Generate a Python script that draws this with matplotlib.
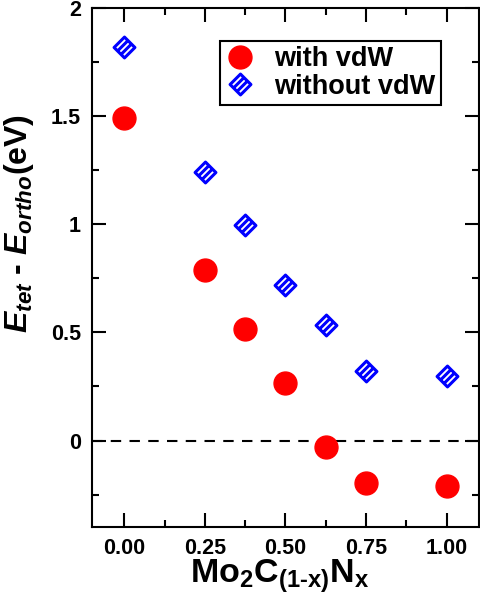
import numpy as np
import matplotlib
matplotlib.use("Agg")
import matplotlib.pyplot as plt
from matplotlib.path import Path
from matplotlib.ticker import MultipleLocator, FixedLocator

plt.rcParams['font.family'] = ['Liberation Sans', 'DejaVu Sans']
plt.rcParams['font.weight'] = 'bold'
plt.rcParams['mathtext.fontset'] = 'custom'
plt.rcParams['mathtext.rm'] = 'Liberation Sans:bold'
plt.rcParams['mathtext.bf'] = 'Liberation Sans:bold'
plt.rcParams['mathtext.it'] = 'Liberation Sans:bold:italic'
plt.rcParams['mathtext.bfit'] = 'Liberation Sans:bold:italic'

# composition x in Mo2C(1-x)Nx
x_vdw = [0.0, 0.25, 0.375, 0.5, 0.625, 0.75, 1.0]
e_vdw = [1.49, 0.79, 0.515, 0.265, -0.03, -0.195, -0.21]
x_novdw = [0.0, 0.25, 0.375, 0.5, 0.625, 0.75, 1.0]
e_novdw = [1.82, 1.24, 0.995, 0.72, 0.535, 0.32, 0.30]
xticks = [0.0, 0.25, 0.5, 0.75, 1.0]
xticklabels = ["0.00", "0.25", "0.50", "0.75", "1.00"]
yticks = [0.0, 0.5, 1.0, 1.5, 2.0]
yticklabels = ["0", "0.5", "1", "1.5", "2"]

# striped diamond marker: rotated square with two inner stripes
def striped_diamond():
    verts, codes = [], []
    sq = [(-1, -1), (1, -1), (1, 1), (-1, 1), (-1, -1)]
    verts += sq
    codes += [Path.MOVETO] + [Path.LINETO] * 3 + [Path.CLOSEPOLY]
    for s in (-1 / 3, 1 / 3):
        verts += [(s, -1), (s, 1)]
        codes += [Path.MOVETO, Path.LINETO]
    th = np.deg2rad(-45)
    c, sn = np.cos(th), np.sin(th)
    rv = [(c * a - sn * b, sn * a + c * b) for a, b in verts]
    return Path(rv, codes)

marker = striped_diamond()

fig = plt.figure(figsize=(4.8, 6.02), dpi=100)
ax = fig.add_axes([0.1917, 0.1246, 0.806, 0.862])

ax.axhline(0, color='black', lw=1.5, ls=(0, (5, 4)), zorder=1)
ax.plot(x_vdw, e_vdw, ls='none', marker='o', ms=16.5, color='red',
        mec='red', label='with vdW', zorder=3)
ax.plot(x_novdw, e_novdw, ls='none', marker=marker, ms=15, mfc='none',
        mec='blue', mew=2.2, label='without vdW', zorder=3)

ax.set_xlim(-0.1, 1.1)
ax.set_ylim(-0.4, 2.0)
ax.xaxis.set_major_locator(FixedLocator(xticks))
ax.set_xticklabels(xticklabels)
ax.xaxis.set_minor_locator(MultipleLocator(0.125))
ax.yaxis.set_major_locator(FixedLocator(yticks))
ax.set_yticklabels(yticklabels)
ax.yaxis.set_minor_locator(MultipleLocator(0.25))

ax.tick_params(which='both', direction='in', top=True, right=True, width=1.5,
               labelsize=15.5, pad=8)
ax.tick_params(which='major', length=10)
ax.tick_params(which='minor', length=5)
for lab in ax.get_xticklabels() + ax.get_yticklabels():
    lab.set_fontweight('bold')
for sp in ax.spines.values():
    sp.set_linewidth(1.5)

ax.set_xlabel(r'$\mathbf{Mo_2C_{(1\text{-}x)}N_x}$', fontsize=24.5, labelpad=0)
ax.xaxis.set_label_coords(0.485, -0.058)
ax.set_ylabel(r'$\mathbfit{E_{tet}}$ - $\mathbfit{E_{ortho}}$(eV)',
              fontsize=23, fontweight='bold', labelpad=4)
ax.yaxis.set_label_coords(-0.145, 0.585)

leg = ax.legend(loc='upper left', bbox_to_anchor=(0.33, 0.937),
                prop={'weight': 'bold', 'size': 19.5}, frameon=True,
                fancybox=False, edgecolor='black', framealpha=1,
                handletextpad=0.7, borderpad=0.2, labelspacing=0.05,
                handlelength=1.1, borderaxespad=0)
leg.get_frame().set_linewidth(1.5)

fig.savefig('out.png', dpi=100)
